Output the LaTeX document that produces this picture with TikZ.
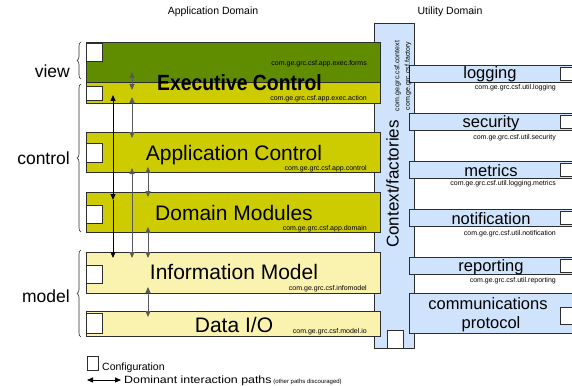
\documentclass[tikz,border=0pt]{standalone}
\usepackage{fontspec}
\setmainfont{Liberation Sans}
\usetikzlibrary{arrows.meta,decorations.pathreplacing}
\definecolor{execgreen}{RGB}{96,140,0}
\definecolor{ctrlyellow}{RGB}{204,204,0}
\definecolor{modelyellow}{RGB}{250,243,176}
\definecolor{utilblue}{RGB}{207,228,252}
\definecolor{edge}{RGB}{45,45,45}
\begin{document}
\begin{tikzpicture}[x=1pt,y=-1pt,
  box/.style={draw=edge, line width=0.9pt, inner sep=0pt, outer sep=0pt, anchor=north west},
  cfg/.style={draw=edge, line width=0.9pt, fill=white, inner sep=0pt, outer sep=0pt, anchor=north west},
  big/.style={font=\fontsize{21}{21}\selectfont, inner sep=0pt, anchor=base},
  pkg/.style={font=\fontsize{7}{7}\selectfont, inner sep=0pt, anchor=base east},
  utiltext/.style={font=\fontsize{16.5}{16.5}\selectfont, inner sep=0pt, anchor=base},
  side/.style={font=\fontsize{17.5}{17.5}\selectfont, inner sep=0pt, anchor=base east},
  head/.tip={Triangle[length=6pt,width=5pt]},
  dbl/.style={{head}-{head}, draw=black!65, line width=0.8pt},
  sgl/.style={-{head}, draw=black!65, line width=0.8pt},
  brc/.style={decorate, decoration={brace, amplitude=4pt}, draw=edge, line width=0.6pt}]
\useasboundingbox[fill=white] (0,0) rectangle (572,385);

% headings
\node[font=\fontsize{10.5}{10.5}\selectfont, inner sep=0pt, anchor=base] (hApp) at (213,15) {Application Domain};
\node[font=\fontsize{10.5}{10.5}\selectfont, inner sep=0pt, anchor=base] (hUtil) at (450,15) {Utility Domain};

% context / factories column
\node[box, fill=utilblue, minimum width=40pt, minimum height=325pt] (ctx) at (374,23) {};
\node[cfg, minimum width=16pt, minimum height=18pt] (ctxcfg) at (387,330) {};

% application boxes
\node[box, fill=execgreen, minimum width=294pt, minimum height=40pt] (exf) at (86,42) {};
\node[box, fill=ctrlyellow, minimum width=294pt, minimum height=21pt] (exa) at (86,82) {};
\node[box, fill=ctrlyellow, minimum width=294pt, minimum height=40pt] (apc) at (86,132) {};
\node[box, fill=ctrlyellow, minimum width=294pt, minimum height=40pt] (dom) at (86,192) {};
\node[box, fill=modelyellow, minimum width=294pt, minimum height=41pt] (inf) at (86,252) {};
\node[box, fill=modelyellow, minimum width=294pt, minimum height=25pt] (dio) at (86,311) {};

\node[cfg, minimum width=16pt, minimum height=18pt] (exfcfg) at (86,43.5) {};
\node[cfg, minimum width=16pt, minimum height=14pt] (exacfg) at (86,86) {};
\node[cfg, minimum width=16pt, minimum height=19pt] (apccfg) at (86,143) {};
\node[cfg, minimum width=16pt, minimum height=18pt] (domcfg) at (86,205) {};
\node[cfg, minimum width=16pt, minimum height=18pt] (infcfg) at (86,265) {};
\node[cfg, minimum width=16pt, minimum height=20pt] (diocfg) at (86,313) {};

% utility boxes
\node[box, fill=utilblue, minimum width=175pt, minimum height=17pt] (log) at (409,65) {};
\node[box, fill=utilblue, minimum width=175pt, minimum height=17pt] (sec) at (409,113) {};
\node[box, fill=utilblue, minimum width=175pt, minimum height=17pt] (met) at (409,161) {};
\node[box, fill=utilblue, minimum width=175pt, minimum height=17pt] (not) at (409,209) {};
\node[box, fill=utilblue, minimum width=175pt, minimum height=17pt] (rep) at (409,257) {};
\node[box, fill=utilblue, minimum width=175pt, minimum height=40pt] (com) at (409,293) {};

\node[cfg, minimum width=16pt, minimum height=13pt] (logcfg) at (560,67) {};
\node[cfg, minimum width=16pt, minimum height=13pt] (seccfg) at (560,115) {};
\node[cfg, minimum width=16pt, minimum height=13pt] (metcfg) at (560,163) {};
\node[cfg, minimum width=16pt, minimum height=13pt] (notcfg) at (560,211) {};
\node[cfg, minimum width=16pt, minimum height=13pt] (repcfg) at (560,259) {};
\node[cfg, minimum width=16pt, minimum height=17pt] (comcfg) at (560,307) {};

% utility texts
\node[utiltext] (tlog) at (490,79) {logging};
\node[utiltext] (tsec) at (491,127) {security};
\node[utiltext] (tmet) at (491,176) {metrics};
\node[utiltext] (tnot) at (491,224) {notification};
\node[utiltext] (trep) at (491,271) {reporting};
\node[utiltext] (tcom1) at (488,309) {communications};
\node[utiltext] (tcom2) at (491,328) {protocol};

\node[pkg] (plog) at (556,89.5) {com.ge.grc.csf.util.logging};
\node[pkg] (psec) at (556,139.5) {com.ge.grc.csf.util.security};
\node[pkg] (pmet) at (556,185.5) {com.ge.grc.csf.util.logging.metrics};
\node[pkg] (pnot) at (556,235.5) {com.ge.grc.csf.util.notification};
\node[pkg] (prep) at (556,282.5) {com.ge.grc.csf.util.reporting};

% application texts
\node[pkg] (pexf) at (367,66) {com.ge.grc.csf.app.exec.forms};
\node[pkg] (pexa) at (367,101) {com.ge.grc.csf.app.exec.action};
\node[pkg] (papc) at (367,170) {com.ge.grc.csf.app.control};
\node[pkg] (pdom) at (367,230) {com.ge.grc.csf.app.domain};
\node[pkg] (pinf) at (367,290) {com.ge.grc.csf.infomodel};
\node[pkg] (pdio) at (367,333) {com.ge.grc.csf.model.io};

\node[font=\fontsize{22}{22}\selectfont\bfseries, inner sep=0pt, anchor=base] (texe) at (239.5,90.5) {\scalebox{0.88}[1]{Executive Control}};
\node[big] (tapc) at (234,160) {Application Control};
\node[big] (tdom) at (234,220) {Domain Modules};
\node[big] (tinf) at (234,279) {Information Model};
\node[big] (tdio) at (234,332) {Data I/O};

% context texts
\node[font=\fontsize{17}{17}\selectfont, inner sep=0pt, rotate=90] (tctx) at (392.5,184) {Context/factories};
\node[font=\fontsize{7}{7}\selectfont, inner sep=0pt, rotate=90] (pctx1) at (397.5,76) {com.ge.grc.csf.context};
\node[font=\fontsize{7}{7}\selectfont, inner sep=0pt, rotate=90] (pctx2) at (408,76) {com.ge.grc.csf.factory};

% interaction arrows
\coordinate (a1t) at (113,95);
\coordinate (a1m) at (113,200);
\coordinate (a1b) at (113,258);
\draw[dbl, draw=black, line width=1pt] (a1t) -- (a1m);
\draw[sgl, draw=black, line width=1pt] (a1m) -- (a1b);

\coordinate (b1t) at (132,72);  \coordinate (b1b) at (132,90);
\coordinate (b2t) at (132,97);  \coordinate (b2b) at (132,138);
\coordinate (b3t) at (132,168); \coordinate (b3b) at (132,258);
\draw[dbl] (b1t) -- (b1b);
\draw[dbl] (b2t) -- (b2b);
\draw[dbl] (b3t) -- (b3b);

\coordinate (c1t) at (148,167); \coordinate (c1b) at (148,197);
\coordinate (c2t) at (148,227); \coordinate (c2b) at (148,258);
\coordinate (c3t) at (148,287); \coordinate (c3b) at (148,317);
\draw[dbl] (c1t) -- (c1b);
\draw[dbl] (c2t) -- (c2b);
\draw[dbl] (c3t) -- (c3b);

% braces and layer labels
\coordinate (bv1) at (81,79);  \coordinate (bv2) at (81,42);
\coordinate (bc1) at (81,232); \coordinate (bc2) at (81,84);
\coordinate (bm1) at (81,337); \coordinate (bm2) at (81,250);
\draw[brc] (bv1) -- (bv2);
\draw[brc] (bc1) -- (bc2);
\draw[brc] (bm1) -- (bm2);
\node[side] (lview) at (70,78) {view};
\node[side] (lctrl) at (70,164) {control};
\node[side] (lmodel) at (70,302) {model};

% legend
\node[cfg, minimum width=11pt, minimum height=14pt] (lgcfg) at (87,356) {};
\node[font=\fontsize{10.5}{10.5}\selectfont, inner sep=0pt, anchor=base west] (lgtxt) at (102,370) {Configuration};
\coordinate (lga) at (87,380);
\coordinate (lgb) at (121,380);
\draw[dbl, draw=black, line width=1pt] (lga) -- (lgb);
\node[font=\fontsize{10.5}{10.5}\selectfont, inner sep=0pt, anchor=base west] (lgtxt2) at (124,383.5) {\scalebox{1.18}[1]{Dominant interaction paths}\,{\fontsize{6}{6}\selectfont(other paths discouraged)}};
\end{tikzpicture}
\end{document}
